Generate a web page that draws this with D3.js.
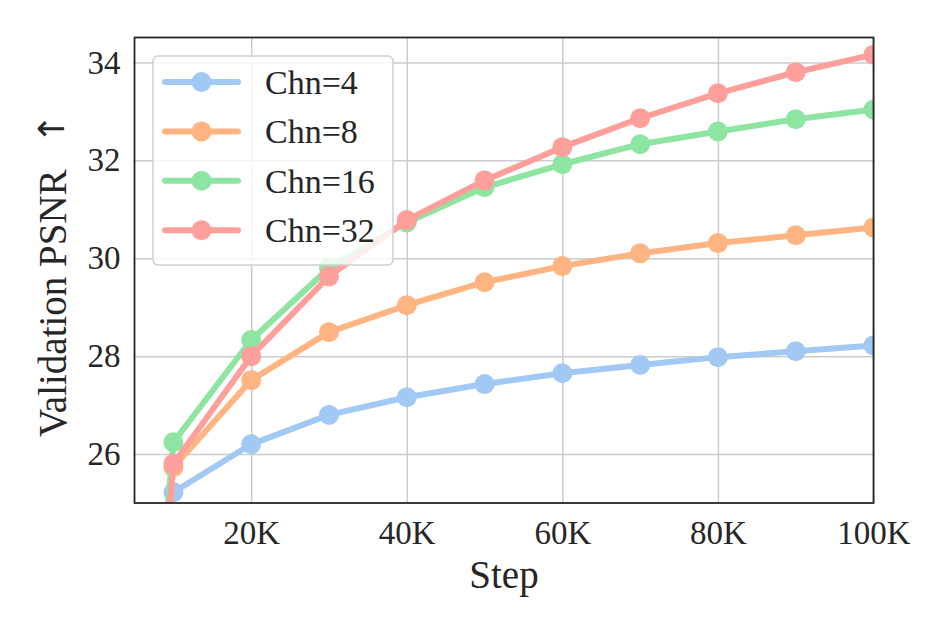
<!DOCTYPE html>
<html><head><meta charset="utf-8">
<script src="https://cdn.jsdelivr.net/npm/d3@7"></script>
<style>body{margin:0;background:#fff}svg{display:block}text{font-family:"Liberation Serif","Times New Roman",serif;fill:#262626}</style>
</head><body><svg id="c" width="952" height="634"></svg>
<script>
const steps = [0, 10000, 20000, 30000, 40000, 50000, 60000, 70000, 80000, 90000, 100000];
const seriesNames = ["Chn=4", "Chn=8", "Chn=16", "Chn=32"];
const chn4  = [8.0, 25.22, 26.20, 26.80, 27.16, 27.43, 27.65, 27.82, 27.98, 28.10, 28.22];
const chn8  = [8.0, 25.73, 27.51, 28.49, 29.04, 29.51, 29.84, 30.10, 30.31, 30.47, 30.63];
const chn16 = [8.0, 26.24, 28.33, 29.80, 30.73, 31.45, 31.92, 32.33, 32.59, 32.84, 33.04];
const chn32 = [8.0, 25.80, 28.00, 29.63, 30.78, 31.59, 32.27, 32.86, 33.37, 33.80, 34.16];
const xTicks = [20000, 40000, 60000, 80000, 100000];
const xTickLabels = ["20K", "40K", "60K", "80K", "100K"];
const yTicks = [26, 28, 30, 32, 34];
const colors = ["#a1c9f4", "#ffb482", "#8de5a1", "#ff9f9b"];
const allSeries = [chn4, chn8, chn16, chn32];

const svg = d3.select("#c");
const L = 134.5, R = 873.5, T = 37.5, B = 503;
const x = d3.scaleLinear().domain([5000, 100000]).range([L, R]);
const y = d3.scaleLinear().domain([25, 34.51]).range([B, T]);

svg.append("defs").append("clipPath").attr("id","clip")
  .append("rect").attr("x",L).attr("y",T).attr("width",R-L).attr("height",B-T);

const FS_TICK = 33;
// grid
const gx = svg.append("g").attr("transform",`translate(0,${B})`)
  .call(d3.axisBottom(x).tickValues(xTicks).tickFormat((d,i)=>xTickLabels[i]).tickSize(-(B-T)).tickPadding(18));
gx.select(".domain").remove();
gx.selectAll("line").attr("stroke","#cccccc").attr("stroke-width",1.5);
gx.selectAll("text").attr("font-size",FS_TICK).style("font-family","'Liberation Serif',serif").attr("fill","#262626");

const gy = svg.append("g").attr("transform",`translate(${L},0)`)
  .call(d3.axisLeft(y).tickValues(yTicks).tickSize(-(R-L)).tickPadding(14));
gy.select(".domain").remove();
gy.selectAll("line").attr("stroke","#cccccc").attr("stroke-width",1.5);
gy.selectAll("text").attr("font-size",FS_TICK).style("font-family","'Liberation Serif',serif").attr("fill","#262626");

// lines
const plot = svg.append("g").attr("clip-path","url(#clip)");
const line = d3.line().x((d,i)=>x(steps[i])).y(d=>y(d));
allSeries.forEach((s,k)=>{
  const g = plot.append("g");
  g.append("path").datum(s).attr("d",line).attr("fill","none")
    .attr("stroke",colors[k]).attr("stroke-width",6).attr("stroke-linejoin","round");
  g.selectAll("circle").data(s).enter().append("circle")
    .attr("cx",(d,i)=>x(steps[i])).attr("cy",d=>y(d)).attr("r",10).attr("fill",colors[k]);
});

// frame
svg.append("rect").attr("x",L).attr("y",T).attr("width",R-L).attr("height",B-T)
  .attr("fill","none").attr("stroke","#262626").attr("stroke-width",1.8);

// legend
const lg = svg.append("g");
lg.append("rect").attr("x",153).attr("y",56).attr("width",240).attr("height",209).attr("rx",5)
  .attr("fill","#ffffff").attr("fill-opacity",0.8).attr("stroke","#d0d0d0").attr("stroke-width",1.5);
seriesNames.forEach((n,k)=>{
  const yy = 82 + k*49.4;
  lg.append("line").attr("x1",165).attr("x2",238).attr("y1",yy).attr("y2",yy)
    .attr("stroke",colors[k]).attr("stroke-width",6).attr("stroke-linecap","round");
  lg.append("circle").attr("cx",201.5).attr("cy",yy).attr("r",10).attr("fill",colors[k]);
  lg.append("text").attr("x",265).attr("y",yy+12).attr("font-size",34).text(n);
});

// axis labels
svg.append("text").attr("x",(L+R)/2).attr("y",588).attr("text-anchor","middle").attr("font-size",39).text("Step");
svg.append("text").attr("transform",`translate(66,437) rotate(-90)`).attr("text-anchor","start")
  .attr("font-size",39).text("Validation PSNR");
svg.append("text").attr("transform",`translate(64,129) rotate(-90)`).attr("text-anchor","middle")
  .attr("font-size",36).style("font-family","'DejaVu Sans',sans-serif").text("\u2191");
</script></body></html>
